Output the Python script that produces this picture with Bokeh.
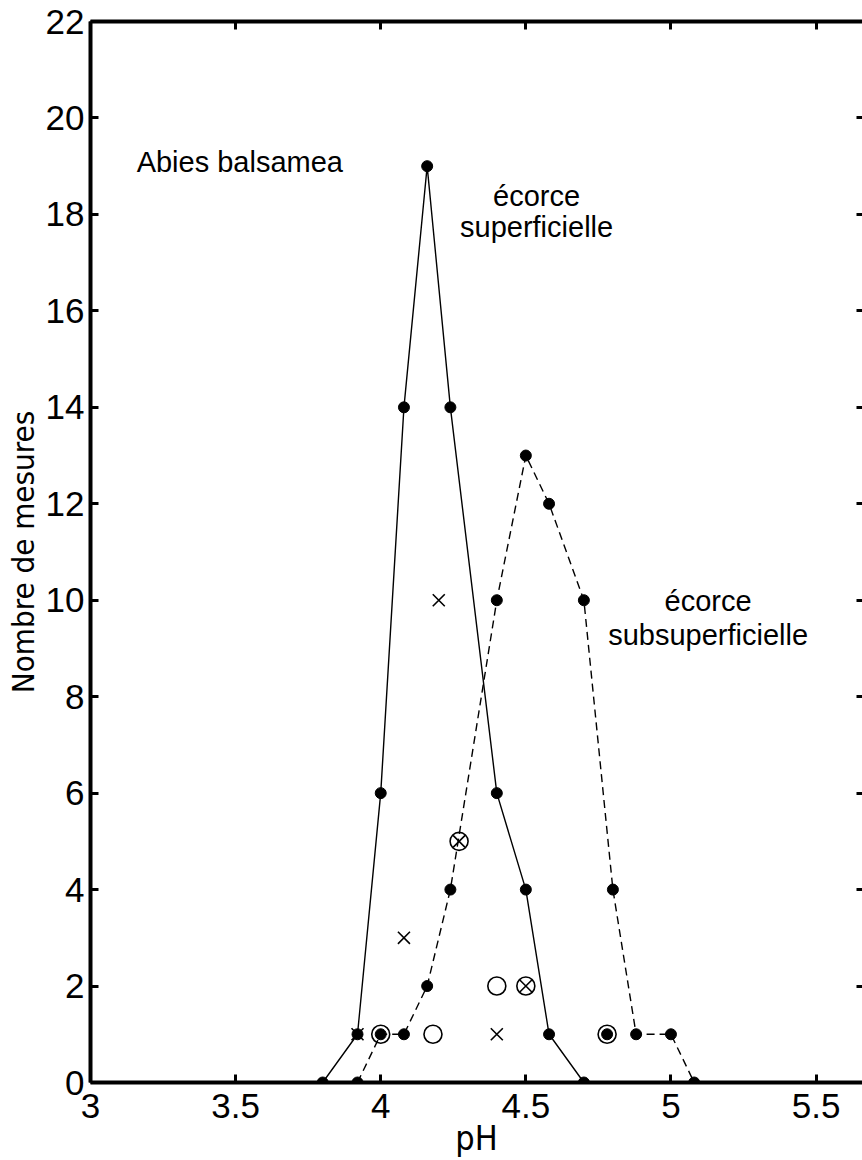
from bokeh.plotting import figure
from bokeh.models import LinearAxis, FixedTicker, Range1d, Label
from bokeh.embed import file_html
from bokeh.resources import INLINE

# ---- data ----
x_ticks = [3, 3.5, 4, 4.5, 5, 5.5]
x_tick_labels = ["3", "3.5", "4", "4.5", "5", "5.5"]
y_ticks = [0, 2, 4, 6, 8, 10, 12, 14, 16, 18, 20, 22]

# écorce superficielle (solid line)
ph_sup = [3.80, 3.92, 4.00, 4.08, 4.16, 4.24, 4.40, 4.50, 4.58, 4.70]
n_sup = [0, 1, 6, 14, 19, 14, 6, 4, 1, 0]

# écorce subsuperficielle (dashed line)
ph_sub = [3.92, 4.00, 4.08, 4.16, 4.24, 4.40, 4.50, 4.58, 4.70, 4.80, 4.88, 5.00, 5.08]
n_sub = [0, 1, 1, 2, 4, 10, 13, 12, 10, 4, 1, 1, 0]

# other measurements (open circles)
ph_circle = [4.00, 4.18, 4.27, 4.40, 4.50, 4.78]
n_circle = [1, 1, 5, 2, 2, 1]

# other measurements (crosses)
ph_cross = [3.92, 4.08, 4.20, 4.27, 4.40, 4.50]
n_cross = [1, 3, 10, 5, 1, 2]

# isolated filled dot
ph_dot = [4.78]
n_dot = [1]

FONT = "'Liberation Sans', Arial, sans-serif"
NARROW = "'Liberation Sans Narrow', 'Arial Narrow', 'DejaVu Sans Condensed', sans-serif"

p = figure(width=862, height=1160,
           x_range=Range1d(3, 5.66), y_range=Range1d(0, 22),
           output_backend="svg", toolbar_location=None,
           min_border_left=90, min_border_right=0,
           min_border_top=21, min_border_bottom=77)
p.grid.visible = False
p.outline_line_color = None
p.background_fill_color = "white"
p.border_fill_color = "white"

# bottom axis
xa = p.xaxis[0]
xa.ticker = FixedTicker(ticks=x_ticks)
xa.major_label_overrides = {float(t): s for t, s in zip(x_ticks, x_tick_labels)}
xa.axis_label = "pH"
xa.axis_label_text_font = NARROW
xa.axis_label_text_font_size = "34px"
xa.axis_label_text_font_style = "normal"
xa.axis_label_text_color = "black"
xa.axis_label_standoff = -3
xa.major_label_standoff = 11

# left axis
ya = p.yaxis[0]
ya.ticker = FixedTicker(ticks=y_ticks)
ya.axis_label = "Nombre de mesures"
ya.axis_label_text_font = NARROW
ya.axis_label_text_font_size = "31px"
ya.axis_label_text_font_style = "normal"
ya.axis_label_text_color = "black"
ya.axis_label_standoff = 2
ya.major_label_standoff = 6

# top and right axes (ticks only, empty labels)
top = LinearAxis(ticker=FixedTicker(ticks=x_ticks),
                 major_label_overrides={float(t): "" for t in x_ticks},
                 major_label_text_font_size="1px", major_label_standoff=0)
right = LinearAxis(ticker=FixedTicker(ticks=y_ticks[1:-1]),
                   major_label_overrides={t: "" for t in y_ticks[1:-1]},
                   major_label_text_font_size="1px", major_label_standoff=0,
                   axis_line_alpha=0)
p.add_layout(top, "above")
p.add_layout(right, "right")

for ax in [xa, ya, top, right]:
    if ax is not right:
        ax.axis_line_width = 4
        ax.axis_line_color = "black"
    ax.major_tick_in = 8
    ax.major_tick_out = 0
    ax.major_tick_line_width = 3
    ax.major_tick_line_color = "black"
    ax.minor_tick_line_color = None
    ax.major_label_text_font = FONT
    ax.major_label_text_color = "black"
for ax in [xa, ya]:
    ax.major_label_text_font_size = "35px"
right.major_tick_in = 6

# lines
p.line(ph_sup, n_sup, line_color="black", line_width=1.4)
p.line(ph_sub, n_sub, line_color="black", line_width=1.4, line_dash="8 5")

# markers
p.scatter(ph_sup, n_sup, marker="circle", size=11, fill_color="black", line_color="black")
p.scatter(ph_sub, n_sub, marker="circle", size=11, fill_color="black", line_color="black")
p.scatter(ph_dot, n_dot, marker="circle", size=11, fill_color="black", line_color="black")
p.scatter(ph_circle, n_circle, marker="circle", size=18, fill_color=None,
          line_color="black", line_width=1.6)
p.scatter(ph_cross, n_cross, marker="x", size=17, line_color="black", line_width=1.6)

# annotations
def lab(x, y, t, align):
    p.add_layout(Label(x=x, y=y, text=t, text_font=FONT, text_font_size="29px",
                       text_align=align, text_baseline="middle", text_color="black"))

lab(3.159, 19.09, "Abies balsamea", "left")
lab(4.537, 18.38, "écorce", "center")
lab(4.537, 17.74, "superficielle", "center")
lab(5.128, 9.98, "écorce", "center")
lab(5.128, 9.27, "subsuperficielle", "center")

open("out.html", "w").write(file_html(p, INLINE))
